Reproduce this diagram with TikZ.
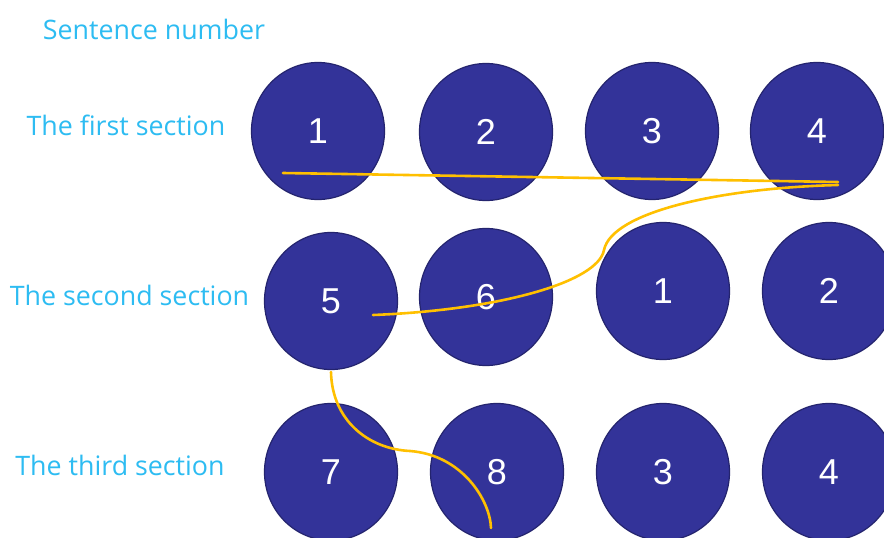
\documentclass[tikz,border=0pt]{standalone}
\usepackage{fontspec}
\setmainfont{Liberation Sans}
\newfontfamily\labelfont{Open Sans}
\usetikzlibrary{shapes.geometric}
\definecolor{ballfill}{HTML}{333399}
\definecolor{balledge}{HTML}{24246E}
\definecolor{labelblue}{HTML}{2DBCF2}
\definecolor{pathgold}{HTML}{FFC000}
\tikzset{
  ball/.style={ellipse, draw=balledge, line width=1.2pt, fill=ballfill,
    minimum width=133pt, minimum height=137pt, inner sep=0pt,
    text=white, font=\fontsize{36}{40}\selectfont},
  rowlabel/.style={text=labelblue, font=\labelfont\fontsize{26.8}{30}\selectfont, inner sep=0pt},
  trace/.style={draw=pathgold, line width=2.6pt, line cap=round}
}
\begin{document}
\begin{tikzpicture}[x=1pt,y=-1pt]
\useasboundingbox[fill=white] (0,0) rectangle (884,538);
% labels
\node[rowlabel] (title) at (154,29) {Sentence number};
\node[rowlabel] (l1) at (126,125) {The first section};
\node[rowlabel] (l2) at (129.5,295) {The second section};
\node[rowlabel] (l3) at (120,465) {The third section};
% row 1
\node[ball] (c1) at (318,131) {1};
\node[ball] (c2) at (486,132) {2};
\node[ball] (c3) at (652,131) {3};
\node[ball] (c4) at (817,131) {4};
% row 2
\node[ball] (d1) at (331,301) {5};
\node[ball] (d2) at (486,297) {6};
\node[ball] (d3) at (663,291) {1};
\node[ball] (d4) at (829,291) {2};
% row 3
\node[ball] (e1) at (331,472) {7};
\node[ball] (e2) at (497,472) {8};
\node[ball] (e3) at (663,472) {3};
\node[ball] (e4) at (829,472) {4};
% trace
\coordinate (a0) at (283,173);
\coordinate (a1) at (838,182);
\coordinate (b0) at (838,185);
\coordinate (b1) at (604,250);
\coordinate (b2) at (373,315);
\coordinate (t0) at (331,372);
\coordinate (t1) at (410,451);
\coordinate (t2) at (491,528);
\draw[trace] (a0) -- (a1);
\draw[trace] (b0) .. controls (720,188) and (612,212) .. (b1)
  .. controls (598,282) and (500,310) .. (b2);
\draw[trace] (t0) .. controls (332,420) and (368,449) .. (t1)
  .. controls (462,455) and (490,500) .. (t2);
\end{tikzpicture}
\end{document}
